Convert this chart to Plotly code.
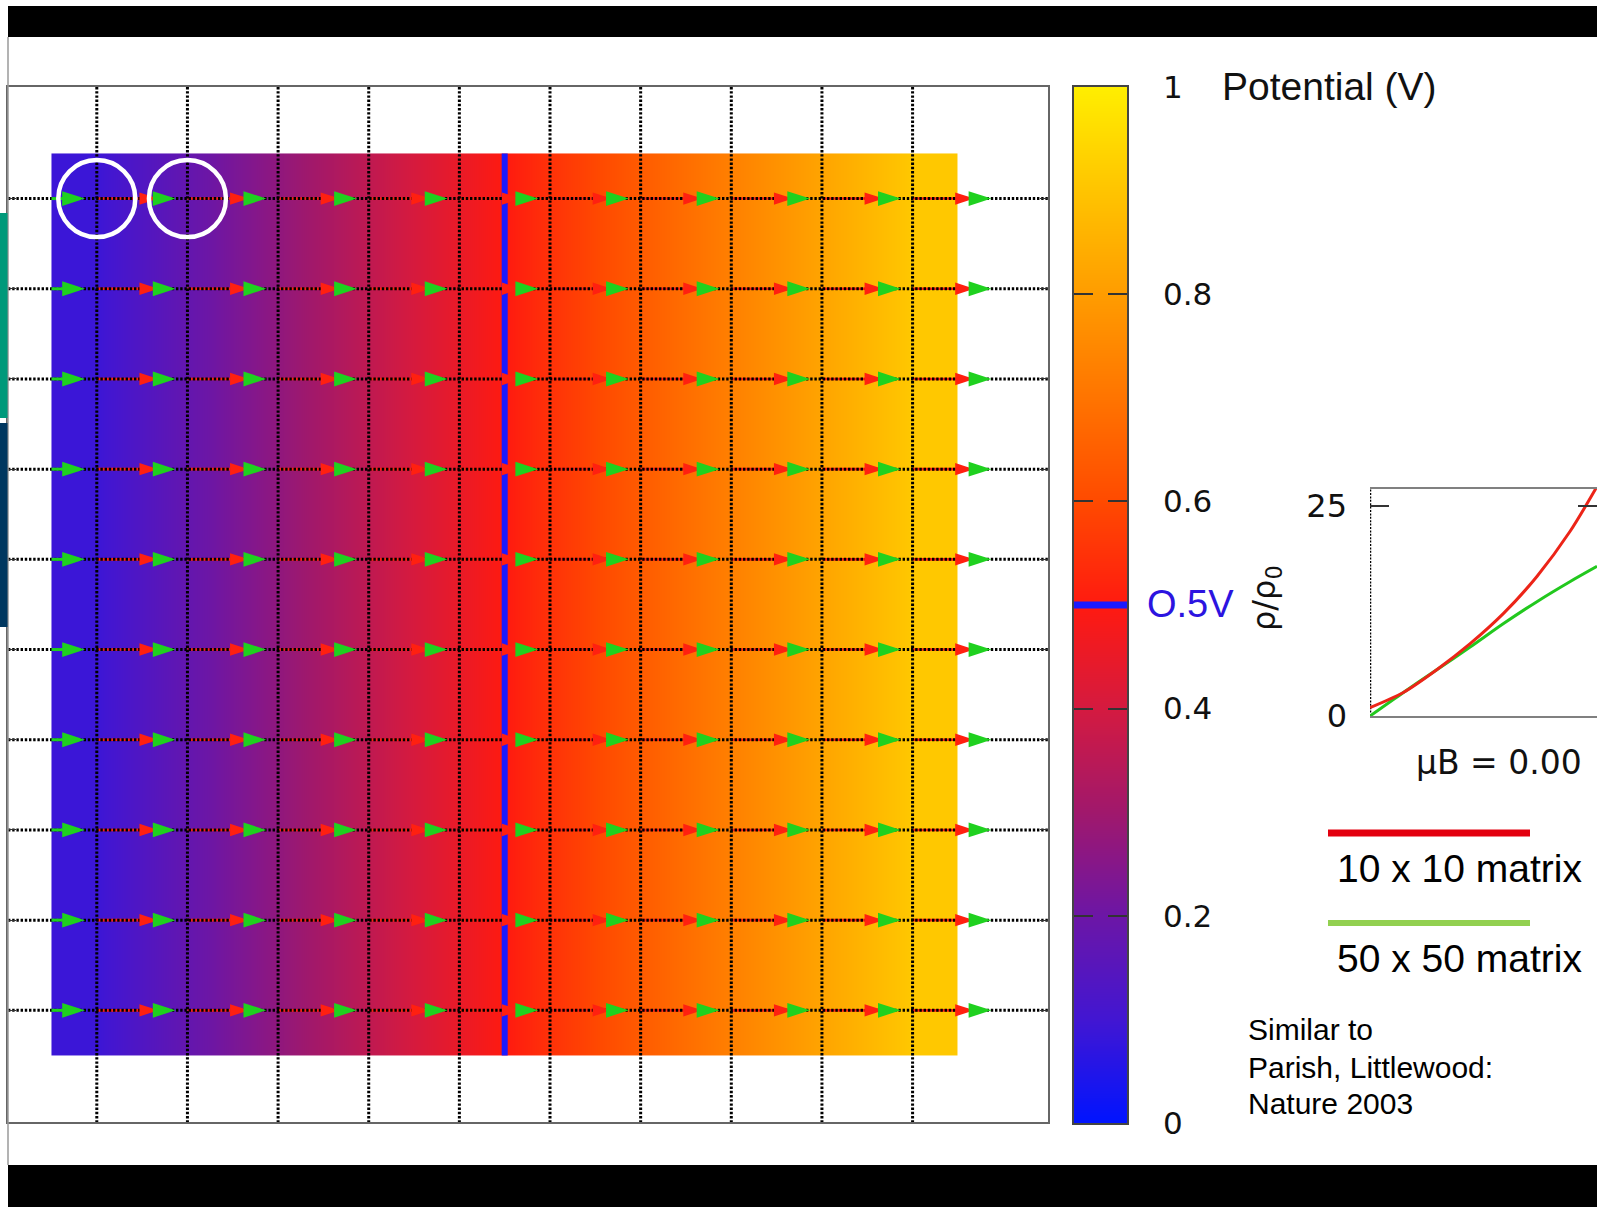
import plotly.graph_objects as go

W, H = 1597, 1207

# ---------------- resistor network: potential map ----------------
columns = [1, 2, 3, 4, 5, 6, 7, 8, 9, 10]
rows = [1, 2, 3, 4, 5, 6, 7, 8, 9, 10]
# node potential (V) of each column of nodes
node_potential = [0.09, 0.18, 0.27, 0.36, 0.45, 0.55, 0.64, 0.73, 0.82, 0.91]
# equipotential drawn in blue
contour_level = 0.5
contour_x = 5.5

# current arrows: link start node and arrow tip offset (arrow length) per link
links_10x10 = [1, 2, 3, 4, 5, 6, 7, 8, 9, 10]
current_10x10 = [0.68, 0.68, 0.68, 0.68, 0.68, 0.68, 0.68, 0.68, 0.68, 0.68]
links_50x50 = [0, 1, 2, 3, 4, 5, 6, 7, 8, 9, 10]
current_50x50 = [0.87, 0.87, 0.87, 0.87, 0.87, 0.87, 0.87, 0.87, 0.87, 0.87, 0.87]
inlet_tail = 0.5          # green inflow arrows start at the sample edge

highlight_nodes = [(1, 1), (2, 1)]

# colour bar
cbar_ticks = [0, 0.2, 0.4, 0.6, 0.8, 1]
cbar_labels = ["0", "0.2", "0.4", "0.6", "0.8", "1"]

# ---------------- inset: magnetoresistance ----------------
mu_b = [0, 1, 2, 3, 4, 5, 6, 6.8]
rho_10x10 = [1.0, 2.8, 5.5, 8.6, 12.2, 16.6, 22.0, 27.3]
rho_50x50 = [0.0, 2.8, 5.5, 8.2, 11.0, 13.6, 16.0, 17.8]
inset_ticks = [0, 25]

# ---------------- styling ----------------
colorscale = [
    [0.0, "#0014ff"], [0.1, "#4216d2"], [0.2, "#6c16a6"], [0.3, "#a0186c"],
    [0.4, "#d41a40"], [0.5, "#ff1a10"], [0.6, "#ff4a00"], [0.7, "#ff7400"],
    [0.8, "#ff9c00"], [0.9, "#ffc400"], [1.0, "#ffee00"],
]
RED = "#ff2010"
GREEN = "#1fd11f"
BLUE = "#1a1aff"
TICK_FONT = "DejaVu Sans"
SLIDE_FONT = "Liberation Sans, Arial"

XR = [0.0203, 11.494]
YR = [11.238, -0.237]


def px(x):
    return x / W


def py(y):
    return 1 - y / H


fig = go.Figure()

# potential map
fig.add_trace(go.Heatmap(
    x=columns, y=rows, z=[node_potential for _ in rows],
    zmin=0, zmax=1, colorscale=colorscale, zsmooth="best",
    showscale=False, hoverinfo="skip", xaxis="x", yaxis="y",
))

# 0.5 V equipotential
fig.add_trace(go.Scatter(
    x=[contour_x, contour_x], y=[rows[0] - 0.5, rows[-1] + 0.5], mode="lines",
    line=dict(color=BLUE, width=6), hoverinfo="skip", xaxis="x", yaxis="y",
))

# red (10x10) current shafts
sx, sy = [], []
for r in rows:
    for start, cur in zip(links_10x10, current_10x10):
        sx += [start, start + cur - 0.08, None]
        sy += [r, r, None]
fig.add_trace(go.Scatter(x=sx, y=sy, mode="lines", line=dict(color=RED, width=2.6),
                         hoverinfo="skip", xaxis="x", yaxis="y"))

# dotted network wires
gx, gy = [], []
for c in columns:
    gx += [c, c, None]
    gy += [YR[1], YR[0], None]
for r in rows:
    gx += [XR[0], XR[1], None]
    gy += [r, r, None]
fig.add_trace(go.Scatter(x=gx, y=gy, mode="lines",
                         line=dict(color="#000000", width=3, dash="2.4px,1.8px"),
                         hoverinfo="skip", xaxis="x", yaxis="y"))

# green inflow shafts at the left edge
ix, iy = [], []
for r in rows:
    ix += [inlet_tail, links_50x50[0] + current_50x50[0] - 0.1, None]
    iy += [r, r, None]
fig.add_trace(go.Scatter(x=ix, y=iy, mode="lines", line=dict(color=GREEN, width=3),
                         hoverinfo="skip", xaxis="x", yaxis="y"))

# arrow heads
rx_, ry_ = [], []
for r in rows:
    for start, cur in zip(links_10x10, current_10x10):
        rx_.append(start + cur)
        ry_.append(r)
fig.add_trace(go.Scatter(x=rx_, y=ry_, mode="markers",
                         marker=dict(symbol="arrow", angle=90, size=20, color=RED,
                                     line=dict(width=0)),
                         hoverinfo="skip", xaxis="x", yaxis="y"))
gx_, gy_ = [], []
for r in rows:
    for start, cur in zip(links_50x50, current_50x50):
        gx_.append(start + cur)
        gy_.append(r)
fig.add_trace(go.Scatter(x=gx_, y=gy_, mode="markers",
                         marker=dict(symbol="arrow", angle=90, size=24, color=GREEN,
                                     line=dict(width=0)),
                         hoverinfo="skip", xaxis="x", yaxis="y"))

# colour bar as its own small axis
fig.add_trace(go.Heatmap(
    x=[0, 1], y=[0, 1], z=[[0, 0], [1, 1]], zmin=0, zmax=1,
    colorscale=colorscale, zsmooth="best", showscale=False, hoverinfo="skip",
    xaxis="x2", yaxis="y2",
))
fig.add_trace(go.Scatter(x=[0, 1], y=[contour_level, contour_level], mode="lines",
                         line=dict(color=BLUE, width=7), hoverinfo="skip",
                         xaxis="x2", yaxis="y2"))

# inset curves
fig.add_trace(go.Scatter(x=[0, 0], y=[0, 27], mode="lines",
                         line=dict(color="#000000", width=2.5, dash="2px,1.4px"),
                         cliponaxis=False, hoverinfo="skip", xaxis="x3", yaxis="y3"))
fig.add_trace(go.Scatter(x=mu_b, y=rho_50x50, mode="lines",
                         line=dict(color="#22c81e", width=3, shape="spline", smoothing=0.8),
                         hoverinfo="skip", xaxis="x3", yaxis="y3"))
fig.add_trace(go.Scatter(x=mu_b, y=rho_10x10, mode="lines",
                         line=dict(color="#ec2418", width=3, shape="spline", smoothing=0.8),
                         hoverinfo="skip", xaxis="x3", yaxis="y3"))

shapes = [
    # slide frame
    dict(type="rect", xref="paper", yref="paper", x0=px(8), x1=1, y0=py(37), y1=py(6),
         fillcolor="#000000", line=dict(width=0), layer="above"),
    dict(type="rect", xref="paper", yref="paper", x0=px(8), x1=1, y0=0, y1=py(1165),
         fillcolor="#000000", line=dict(width=0), layer="above"),
    dict(type="line", xref="paper", yref="paper", x0=px(8), x1=px(8), y0=py(1165), y1=py(37),
         line=dict(color="#9a9a9a", width=1.5)),
    dict(type="rect", xref="paper", yref="paper", x0=0, x1=px(7.5), y0=py(418), y1=py(213),
         fillcolor="#00997a", line=dict(width=0)),
    dict(type="rect", xref="paper", yref="paper", x0=0, x1=px(7.5), y0=py(627), y1=py(423),
         fillcolor="#00375f", line=dict(width=0)),
    # legend swatches
    dict(type="line", xref="paper", yref="paper", x0=px(1328), x1=px(1530), y0=py(833), y1=py(833),
         line=dict(color="#e3000f", width=7)),
    dict(type="line", xref="paper", yref="paper", x0=px(1328), x1=px(1530), y0=py(923), y1=py(923),
         line=dict(color="#92d050", width=6)),
]
rx_c, ry_c = 38.5 / 90.64, 38.5 / 90.19
for (cx, cy) in highlight_nodes:
    shapes.append(dict(type="circle", xref="x", yref="y", x0=cx - rx_c, x1=cx + rx_c,
                       y0=cy - ry_c, y1=cy + ry_c, line=dict(color="#ffffff", width=4.5),
                       layer="above"))

annotations = [
    dict(text="Potential (V)", x=px(1220), y=py(86), xanchor="left", yanchor="middle",
         font=dict(family=SLIDE_FONT, size=39, color="#111111")),
    dict(text="O.5V", x=px(1145), y=py(604), xanchor="left", yanchor="middle",
         font=dict(family=SLIDE_FONT, size=38, color="#2c14e0")),
    dict(text="ρ/ρ<sub>0</sub>", x=px(1266), y=py(598), xanchor="center", yanchor="middle",
         textangle=-90, font=dict(family=TICK_FONT, size=32, color="#111111")),
    dict(text="μB = 0.00", x=px(1414), y=py(762), xanchor="left", yanchor="middle",
         font=dict(family=TICK_FONT, size=33, color="#111111")),
    dict(text="10 x 10 matrix", x=px(1335), y=py(868), xanchor="left", yanchor="middle",
         font=dict(family=SLIDE_FONT, size=39, color="#000000")),
    dict(text="50 x 50 matrix", x=px(1335), y=py(958), xanchor="left", yanchor="middle",
         font=dict(family=SLIDE_FONT, size=39, color="#000000")),
    dict(text="Similar to", x=px(1246), y=py(1029), xanchor="left", yanchor="middle",
         font=dict(family=SLIDE_FONT, size=30, color="#000000")),
    dict(text="Parish, Littlewood:", x=px(1246), y=py(1067), xanchor="left", yanchor="middle",
         font=dict(family=SLIDE_FONT, size=30, color="#000000")),
    dict(text="Nature 2003", x=px(1246), y=py(1103), xanchor="left", yanchor="middle",
         font=dict(family=SLIDE_FONT, size=30, color="#000000")),
]
for a in annotations:
    a.update(xref="paper", yref="paper", showarrow=False)

fig.update_layout(
    width=W, height=H, autosize=False,
    margin=dict(l=0, r=0, t=0, b=0, pad=0, autoexpand=False),
    paper_bgcolor="#ffffff", plot_bgcolor="#ffffff", showlegend=False,
    shapes=shapes, annotations=annotations,
    xaxis=dict(domain=[px(8), px(1048)], range=XR, showgrid=False, zeroline=False,
               showline=True, linecolor="#666666", linewidth=1.5, mirror=True,
               ticks="", showticklabels=False, fixedrange=True, automargin=False),
    yaxis=dict(domain=[py(1122), py(87)], range=YR, showgrid=False, zeroline=False,
               showline=True, linecolor="#666666", linewidth=1.5, mirror="ticks",
               ticks="inside", tickvals=rows, ticklen=8, tickcolor="#333333",
               showticklabels=False, fixedrange=True, automargin=False),
    xaxis2=dict(domain=[px(1074), px(1127)], range=[0, 1], anchor="y2", showgrid=False,
                zeroline=False, showline=True, linecolor="#444444", linewidth=1.5,
                mirror=True, ticks="", showticklabels=False, fixedrange=True,
                automargin=False),
    yaxis2=dict(domain=[py(1123), py(87)], range=[0, 1], anchor="x2", side="right",
                showgrid=False, zeroline=False, showline=True, linecolor="#444444",
                linewidth=1.5, mirror="ticks", ticks="inside", ticklen=19, tickwidth=1.5,
                tickcolor="#333333", tickvals=cbar_ticks, ticktext=cbar_labels,
                tickfont=dict(family=TICK_FONT, size=31, color="#111111"),
                ticklabelstandoff=28, fixedrange=True, automargin=False),
    xaxis3=dict(domain=[px(1370), 1.0], range=[0, 6.8], anchor="y3", showgrid=False,
                zeroline=False, showline=True, linecolor="#808080", linewidth=1.5,
                mirror=True, ticks="", showticklabels=False, fixedrange=True,
                automargin=False),
    yaxis3=dict(domain=[py(716), py(489)], range=[0, 27], anchor="x3", showgrid=False,
                zeroline=False, showline=False, mirror="ticks", ticks="inside",
                ticklen=19, tickwidth=1.5, tickcolor="#333333", tickvals=inset_ticks,
                tickfont=dict(family=TICK_FONT, size=32, color="#111111"),
                ticklabelstandoff=22, fixedrange=True, automargin=False),
)

fig.write_html("out.html")
